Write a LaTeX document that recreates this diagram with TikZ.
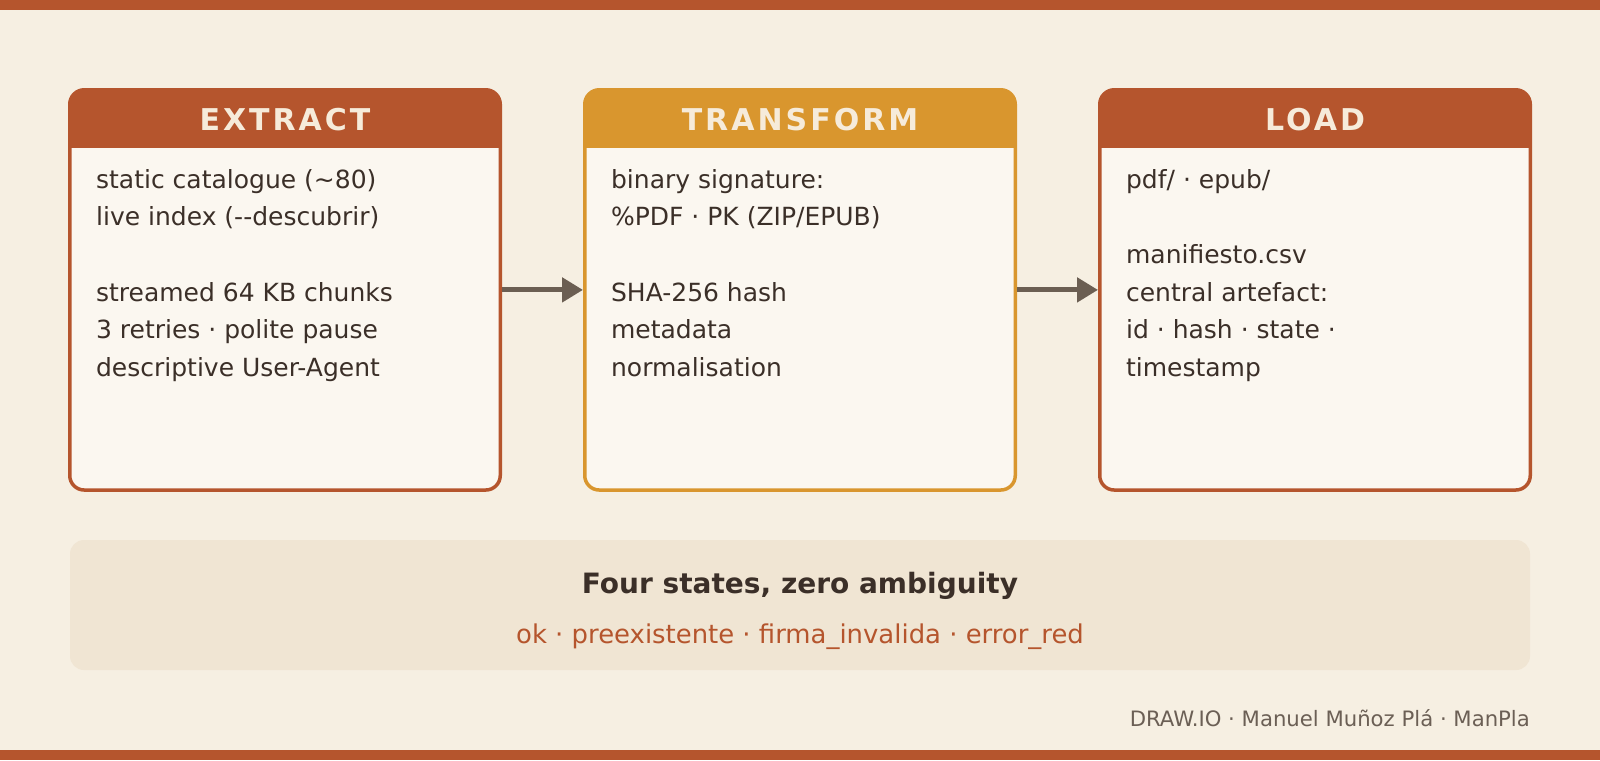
\documentclass[tikz,border=0pt]{standalone}
\usepackage{fontspec}
\setmainfont{DejaVu Sans}
\newfontfamily\hdrfont[LetterSpace=10]{DejaVu Sans Bold}
\usetikzlibrary{arrows.meta}
\definecolor{bg}{HTML}{F6EFE2}
\definecolor{rust}{HTML}{B5552D}
\definecolor{ochre}{HTML}{D9962E}
\definecolor{bodyfill}{HTML}{FBF7F0}
\definecolor{panelfill}{HTML}{F0E5D3}
\definecolor{hdrtext}{HTML}{F6EBDA}
\definecolor{darktext}{HTML}{3B2F28}
\definecolor{arrowc}{HTML}{6B5E52}
\definecolor{foot}{HTML}{6B5F55}
\newcommand\bodylines[1]{\vtop{\baselineskip=37.7pt\lineskiplimit=-100pt #1}}
\begin{document}
\begin{tikzpicture}[x=1pt,y=-1pt,
  stagebox/.style={draw=#1, line width=3.5pt, fill=bodyfill, rounded corners=14.5pt,
    minimum width=430.5pt, minimum height=400.25pt, inner sep=0pt,
    path picture={\fill[#1, sharp corners] ([xshift=-5pt,yshift=5pt]path picture bounding box.north west) rectangle ([xshift=5pt,yshift=-58.25pt]path picture bounding box.north east);}},
  hdr/.style={font=\hdrfont\fontsize{30}{36}\selectfont, text=hdrtext, inner sep=0pt, anchor=base},
  bodytxt/.style={font=\fontsize{25}{37.7}\selectfont, text=darktext, inner sep=0pt, anchor=base west},
  flow/.style={draw=arrowc, line width=5pt, -{Triangle[length=21pt,width=24pt]}}
]
\useasboundingbox (0,0) rectangle (1600,760);
\fill[bg] (0,0) rectangle (1600,760);
\fill[rust] (0,0) rectangle (1600,10);
\fill[rust] (0,750) rectangle (1600,760);

% stage boxes
\node[stagebox=rust]  (ext) at (285,289.9)  {};
\node[stagebox=ochre] (tra) at (800,289.9)  {};
\node[stagebox=rust]  (lod) at (1315,289.9) {};

\node[hdr] (exth) at (285,130.7)  {EXTRACT};
\node[hdr] (trah) at (800,130.7)  {TRANSFORM};
\node[hdr] (lodh) at (1315,130.7) {LOAD};

\node[bodytxt] (extb) at (95.9,188) {\bodylines{%
  \hbox{static catalogue (\textasciitilde80)}
  \hbox{live index (-{}-descubrir)}
  \hbox{}
  \hbox{streamed 64 KB chunks}
  \hbox{3 retries · polite pause}
  \hbox{descriptive User-Agent}}};
\node[bodytxt] (trab) at (610.9,188) {\bodylines{%
  \hbox{binary signature:}
  \hbox{\%PDF · PK (ZIP/EPUB)}
  \hbox{}
  \hbox{SHA-256 hash}
  \hbox{metadata}
  \hbox{normalisation}}};
\node[bodytxt] (lodb) at (1125.9,188) {\bodylines{%
  \hbox{pdf/ · epub/}
  \hbox{}
  \hbox{manifiesto.csv}
  \hbox{central artefact:}
  \hbox{id · hash · state ·}
  \hbox{timestamp}}};

% connectors
\draw[flow] (ext.east) -- (tra.west);
\draw[flow] (tra.east) -- (lod.west);

% bottom panel
\node[fill=panelfill, rounded corners=14pt, minimum width=1460pt, minimum height=130pt, inner sep=0pt] (panel) at (800,605) {};
\node[font=\bfseries\fontsize{28}{34}\selectfont, text=darktext, inner sep=0pt, anchor=base] (ptitle) at (800,593) {Four states, zero ambiguity};
\node[font=\fontsize{25.9}{32}\selectfont, text=rust, inner sep=0pt, anchor=base] (pstates) at (800,643) {ok · preexistente · firma\_invalida · error\_red};

% footer
\node[font=\fontsize{21.2}{26}\selectfont, text=foot, inner sep=0pt, anchor=base east] (footer) at (1530,726) {DRAW.IO · Manuel Muñoz Plá · ManPla};
\end{tikzpicture}
\end{document}
